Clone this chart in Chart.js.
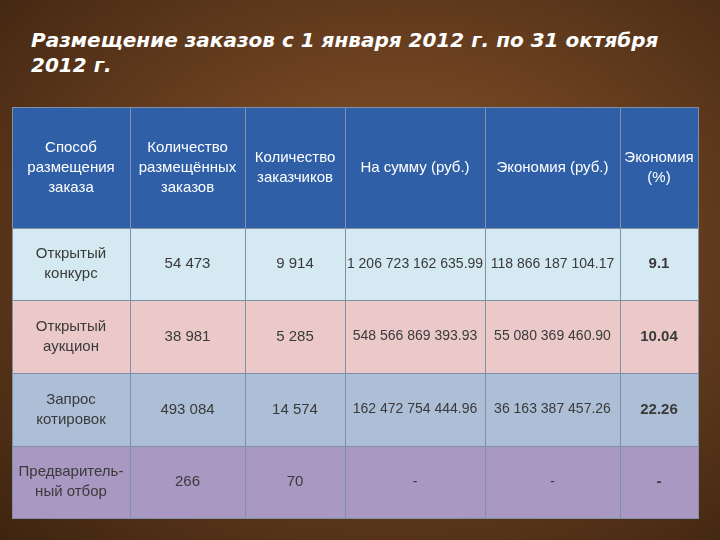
<!DOCTYPE html>
<html>
<head>
<meta charset="utf-8">
<script src="https://cdn.jsdelivr.net/npm/chart.js@4/dist/chart.umd.min.js"></script>
<style>
  html, body { margin: 0; padding: 0; }
  body {
    width: 720px; height: 540px; overflow: hidden; position: relative;
    background: radial-gradient(ellipse at 55% 45%, #8a5a2c 0%, #6a4020 45%, #3e2410 100%);
    font-family: "DejaVu Sans", sans-serif;
  }
  #title {
    position: absolute; left: 31px; top: 28px; color: #fff;
    font: italic bold 20px "DejaVu Sans", sans-serif; line-height: 25px;
  }
  #wrap { position: absolute; left: 0; top: 0; width: 720px; height: 540px; }
</style>
</head>
<body>
<div id="title">Размещение заказов с 1 января 2012 г. по 31 октября<br>2012 г.</div>
<div id="wrap"><canvas id="c" width="720" height="540"></canvas></div>
<script>
// Заголовки столбцов
const headers = ['Способ\nразмещения\nзаказа', 'Количество\nразмещённых\nзаказов', 'Количество\nзаказчиков', 'На сумму (руб.)', 'Экономия (руб.)', 'Экономия\n(%)'];
// Строки таблицы
const categories = ['Открытый\nконкурс', 'Открытый\nаукцион', 'Запрос\nкотировок', 'Предваритель-\nный отбор'];
const orders = ['54 473', '38 981', '493 084', '266'];
const customers = ['9 914', '5 285', '14 574', '70'];
const sums = ['1 206 723 162 635.99', '548 566 869 393.93', '162 472 754 444.96', '-'];
const savings = ['118 866 187 104.17', '55 080 369 460.90', '36 163 387 457.26', '-'];
const percents = ['9.1', '10.04', '22.26', '-'];

const colEdges = [0, 118, 233, 333, 473, 608, 686];
const rowEdges = [0, 121, 193, 266, 339, 411];
const rowColors = ['#2f5fa6', '#d4e9f1', '#ebc9c9', '#adbfd7', '#a898c2'];

const rows = [headers].concat(categories.map((c, i) => [c, orders[i], customers[i], sums[i], savings[i], percents[i]]));

const tablePlugin = {
  id: 'table',
  beforeDatasetsDraw(chart) {
    const { ctx, scales: { x, y } } = chart;
    ctx.save();
    rows.forEach((row, r) => {
      const y0 = y.getPixelForValue(rowEdges[r]), y1 = y.getPixelForValue(rowEdges[r + 1]);
      row.forEach((txt, c) => {
        const x0 = x.getPixelForValue(colEdges[c]), x1 = x.getPixelForValue(colEdges[c + 1]);
        ctx.fillStyle = rowColors[r];
        ctx.fillRect(x0, y0, x1 - x0, y1 - y0);
        ctx.strokeStyle = '#7f8fa8';
        ctx.lineWidth = 1;
        ctx.strokeRect(x0 + 0.5, y0 + 0.5, x1 - x0, y1 - y0);
      });
    });
    rows.forEach((row, r) => {
      const y0 = y.getPixelForValue(rowEdges[r]), y1 = y.getPixelForValue(rowEdges[r + 1]);
      row.forEach((txt, c) => {
        const x0 = x.getPixelForValue(colEdges[c]), x1 = x.getPixelForValue(colEdges[c + 1]);
        const lines = txt.split('\n');
        const bold = r > 0 && c === 5;
        ctx.font = (bold ? 'bold ' : '') + '15px "Liberation Sans", sans-serif';
        if (r > 0 && (c === 3 || c === 4)) ctx.font = '14px "Liberation Sans", sans-serif';
        ctx.fillStyle = r === 0 ? '#ffffff' : '#3a3a3a';
        ctx.textAlign = 'center';
        ctx.textBaseline = 'middle';
        const lh = 20, cy = (y0 + y1) / 2 - (lines.length - 1) * lh / 2;
        lines.forEach((l, i) => ctx.fillText(l, (x0 + x1) / 2, cy + i * lh));
      });
    });
    ctx.restore();
  }
};

new Chart(document.getElementById('c'), {
  type: 'scatter',
  data: { datasets: [{ data: [] }] },
  plugins: [tablePlugin],
  options: {
    responsive: false,
    animation: false,
    layout: { padding: { left: 12, right: 22, top: 107, bottom: 22 } },
    plugins: { legend: { display: false }, tooltip: { enabled: false } },
    scales: {
      x: { type: 'linear', min: 0, max: 686, display: false },
      y: { type: 'linear', min: 0, max: 411, reverse: true, display: false }
    }
  }
});
</script>
</body>
</html>
